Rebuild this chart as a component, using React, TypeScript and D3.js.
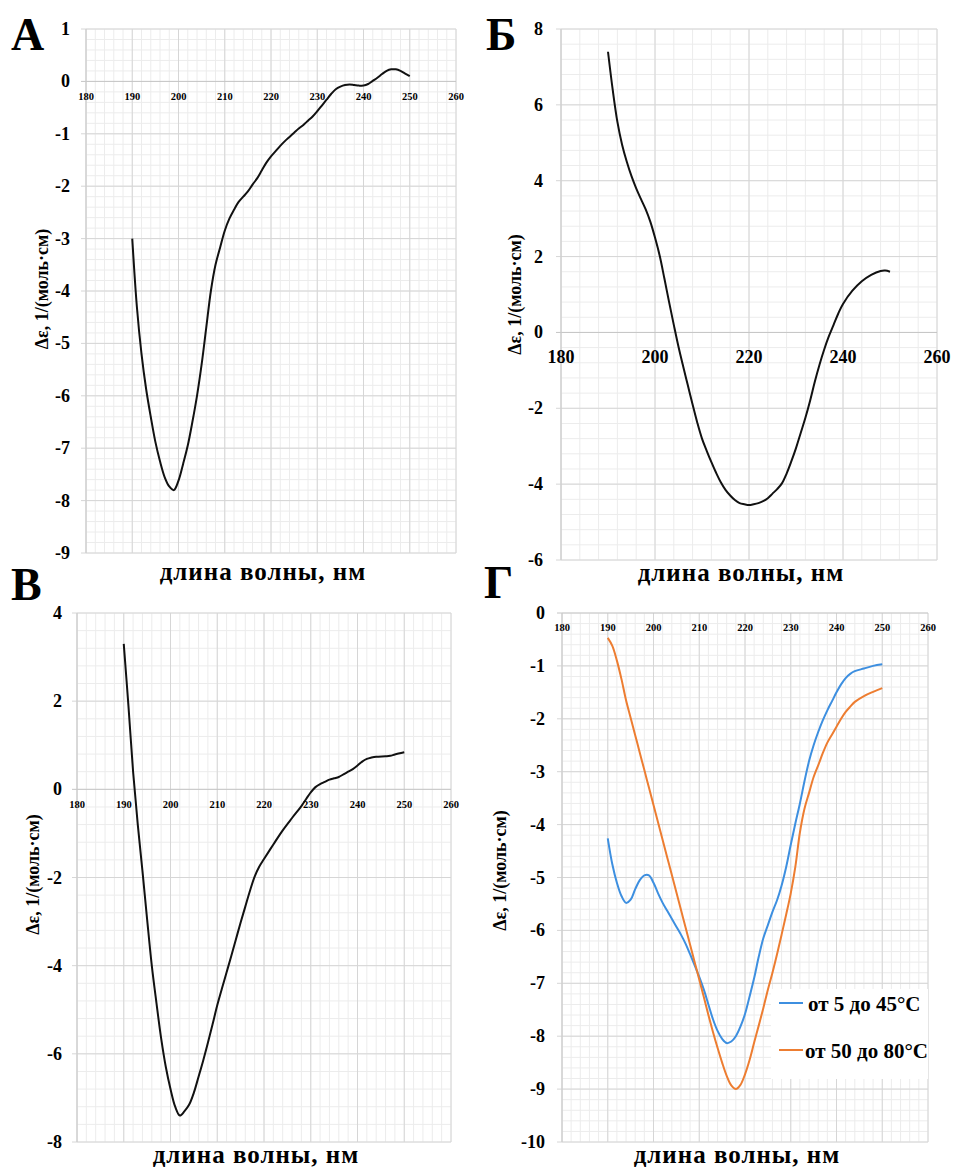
import * as d3 from "d3";

const xTicks10 = [180, 190, 200, 210, 220, 230, 240, 250, 260];
const xTicks20 = [180, 200, 220, 240, 260];

// А
const wlA = [190,191,192,193,194,195,196,197,198,199,200,201,202,203,204,205,206,207,208,209,210,211,212,213,214,215,216,217,218,219,220,221,222,223,224,225,226,227,228,229,230,231,232,233,234,235,236,237,238,239,240,241,242,243,244,245,246,247,248,249,250];
const deA = [-3.0,-4.3,-5.2,-5.87,-6.4,-6.88,-7.25,-7.55,-7.73,-7.8,-7.62,-7.3,-6.95,-6.5,-6.0,-5.4,-4.7,-4.0,-3.5,-3.17,-2.85,-2.62,-2.45,-2.3,-2.2,-2.1,-1.97,-1.85,-1.7,-1.55,-1.43,-1.33,-1.23,-1.14,-1.06,-0.98,-0.9,-0.83,-0.75,-0.67,-0.57,-0.46,-0.35,-0.24,-0.15,-0.1,-0.07,-0.06,-0.07,-0.08,-0.08,-0.05,0.01,0.07,0.14,0.2,0.23,0.23,0.2,0.15,0.1];

// Б
const wlB = [190,191,192,193,194,195,196,197,198,199,200,201,202,203,204,205,206,207,208,209,210,211,212,213,214,215,216,217,218,219,220,221,222,223,224,225,226,227,228,229,230,231,232,233,234,235,236,237,238,239,240,242,244,246,248,249,250];
const deB = [7.4,6.4,5.55,4.95,4.5,4.12,3.8,3.52,3.25,2.92,2.5,2.02,1.42,0.8,0.2,-0.38,-0.9,-1.4,-1.9,-2.38,-2.8,-3.12,-3.42,-3.7,-3.95,-4.15,-4.3,-4.42,-4.5,-4.53,-4.55,-4.53,-4.5,-4.45,-4.37,-4.25,-4.13,-3.98,-3.72,-3.4,-3.05,-2.65,-2.25,-1.8,-1.3,-0.85,-0.45,-0.1,0.2,0.5,0.75,1.1,1.35,1.52,1.62,1.63,1.6];

// В
const wlC = [190,191,192,193,194,195,196,197,198,199,200,201,202,203,204,205,206,207,208,209,210,211,212,213,214,215,216,217,218,219,220,222,224,226,228,230,231,232,233,234,235,236,237,238,239,240,241,242,243,244,246,247,248,250];
const deC = [3.3,1.9,0.4,-0.8,-1.85,-2.95,-4.0,-4.85,-5.65,-6.3,-6.8,-7.2,-7.4,-7.3,-7.15,-6.88,-6.52,-6.15,-5.75,-5.33,-4.9,-4.52,-4.15,-3.78,-3.4,-3.02,-2.66,-2.3,-1.98,-1.75,-1.58,-1.25,-0.93,-0.65,-0.38,-0.07,0.05,0.12,0.17,0.22,0.25,0.28,0.34,0.4,0.46,0.54,0.63,0.69,0.72,0.74,0.75,0.76,0.79,0.84];

// Г
const wlD = [190,191,192,193,194,195,196,197,198,199,200,201,202,203,204,205,206,207,208,209,210,211,212,213,214,215,216,217,218,219,220,221,222,223,224,225,226,227,228,229,230,231,232,233,234,235,236,237,238,239,240,241,242,243,244,246,248,250];
const deD5to45 = [-4.26,-4.75,-5.1,-5.35,-5.48,-5.42,-5.22,-5.05,-4.96,-4.96,-5.1,-5.3,-5.48,-5.63,-5.78,-5.93,-6.08,-6.25,-6.45,-6.66,-6.88,-7.12,-7.4,-7.68,-7.9,-8.05,-8.13,-8.1,-8.0,-7.82,-7.58,-7.25,-6.9,-6.5,-6.15,-5.9,-5.65,-5.43,-5.15,-4.8,-4.38,-3.98,-3.6,-3.18,-2.8,-2.5,-2.25,-2.03,-1.84,-1.67,-1.5,-1.35,-1.23,-1.15,-1.1,-1.05,-1.0,-0.97];
const deD50to80 = [-0.47,-0.62,-0.9,-1.25,-1.65,-1.98,-2.31,-2.64,-2.97,-3.3,-3.63,-3.96,-4.29,-4.62,-4.95,-5.28,-5.61,-5.94,-6.27,-6.6,-6.93,-7.26,-7.6,-7.92,-8.22,-8.5,-8.75,-8.93,-9.0,-8.92,-8.72,-8.45,-8.12,-7.8,-7.47,-7.12,-6.8,-6.45,-6.08,-5.7,-5.3,-4.8,-4.15,-3.7,-3.4,-3.1,-2.88,-2.65,-2.45,-2.3,-2.15,-2.0,-1.87,-1.77,-1.68,-1.57,-1.49,-1.42];

const legendLabels = ["от 5 до 45°C", "от 50 до 80°C"];

const FONT = "'Liberation Serif', 'Times New Roman', serif";

type Series = { wl: number[]; de: number[]; color: string };

type PanelCfg = {
  letter: string;
  letterX: number;
  letterY: number;
  left: number;
  right: number;
  top: number;
  bottom: number;
  yDomain: [number, number];
  yStep: number;
  xTicks: number[];
  xTickSize: number;
  xTickOffset: number;
  yTickGap: number;
  yTitleX: number;
  yTitleDy: number;
  xTitleY: number;
  series: Series[];
};

function Panel({ cfg }: { cfg: PanelCfg }) {
  const x = d3.scaleLinear().domain([180, 260]).range([cfg.left, cfg.right]);
  const y = d3.scaleLinear().domain(cfg.yDomain).range([cfg.bottom, cfg.top]);
  const xStep = cfg.xTicks[1] - cfg.xTicks[0];
  const xMinor = d3.range(180, 260.001, xStep / 5);
  const yMinor = d3.range(cfg.yDomain[0], cfg.yDomain[1] + 0.001, cfg.yStep / 5);
  const yMajor = d3.range(cfg.yDomain[0], cfg.yDomain[1] + 0.001, cfg.yStep);
  const y0 = y(0);
  return (
    <g>
      {yMinor.map((v) => (
        <line key={"ym" + v} x1={cfg.left} x2={cfg.right} y1={y(v)} y2={y(v)} stroke="#ececec" />
      ))}
      {xMinor.map((v) => (
        <line key={"xm" + v} x1={x(v)} x2={x(v)} y1={cfg.top} y2={cfg.bottom} stroke="#ececec" />
      ))}
      {cfg.xTicks.map((v) => (
        <line key={"xM" + v} x1={x(v)} x2={x(v)} y1={cfg.top} y2={cfg.bottom} stroke="#d6d6d6" />
      ))}
      {yMajor.map((v) => (
        <line key={"yM" + v} x1={cfg.left - 5} x2={cfg.right} y1={y(v)} y2={y(v)} stroke={Math.abs(v) < 1e-9 ? "#c4c4c4" : "#d6d6d6"} />
      ))}
      <line x1={cfg.left} x2={cfg.left} y1={cfg.top} y2={cfg.bottom} stroke="#cccccc" />
      {cfg.series.map((s, k) => {
        const path = d3
          .line<number>()
          .x((_, i) => x(s.wl[i]))
          .y((d) => y(d))
          .curve(d3.curveCatmullRom.alpha(0.5))(s.de);
        return <path key={k} d={path ?? ""} fill="none" stroke={s.color} strokeWidth={2} />;
      })}
      {cfg.xTicks.map((v) => (
        <text
          key={"xt" + v}
          x={x(v)}
          y={y0 + cfg.xTickOffset}
          textAnchor="middle"
          dominantBaseline="central"
          fontSize={cfg.xTickSize}
          fontWeight="bold"
          fontFamily={FONT}
        >
          {v}
        </text>
      ))}
      {yMajor.map((v) => (
        <text
          key={"yt" + v}
          x={cfg.left - cfg.yTickGap}
          y={y(v)}
          textAnchor="end"
          dominantBaseline="central"
          fontSize={18}
          fontWeight="bold"
          fontFamily={FONT}
        >
          {d3.format("d")(v).replace("−", "-")}
        </text>
      ))}
      <text
        transform={`translate(${cfg.yTitleX},${(cfg.top + cfg.bottom) / 2 + cfg.yTitleDy}) rotate(-90)`}
        textAnchor="middle"
        dominantBaseline="central"
        fontSize={18}
        fontWeight="bold"
        fontFamily={FONT}
      >
        Δε, 1/(моль·см)
      </text>
      <text
        x={(cfg.left + cfg.right) / 2 - 8}
        y={cfg.xTitleY}
        textAnchor="middle"
        fontSize={25}
        fontWeight="bold"
        letterSpacing={1}
        fontFamily={FONT}
      >
        длина волны, нм
      </text>
      <text x={cfg.letterX} y={cfg.letterY} fontSize={46} fontWeight="bold" fontFamily={FONT}>
        {cfg.letter}
      </text>
    </g>
  );
}

const panels: PanelCfg[] = [
  {
    letter: "А", letterX: 11, letterY: 50,
    left: 86, right: 456, top: 29, bottom: 553,
    yDomain: [-9, 1], yStep: 1, xTicks: xTicks10, xTickSize: 10.5, xTickOffset: 15,
    yTickGap: 16, yTitleX: 42, yTitleDy: -2, xTitleY: 580,
    series: [{ wl: wlA, de: deA, color: "#111" }],
  },
  {
    letter: "Б", letterX: 486, letterY: 50,
    left: 561, right: 937, top: 29, bottom: 560,
    yDomain: [-6, 8], yStep: 2, xTicks: xTicks20, xTickSize: 18, xTickOffset: 25,
    yTickGap: 18, yTitleX: 515, yTitleDy: 0, xTitleY: 581,
    series: [{ wl: wlB, de: deB, color: "#111" }],
  },
  {
    letter: "В", letterX: 11, letterY: 600,
    left: 77, right: 451, top: 613, bottom: 1142,
    yDomain: [-8, 4], yStep: 2, xTicks: xTicks10, xTickSize: 10.5, xTickOffset: 15,
    yTickGap: 15, yTitleX: 33, yTitleDy: -3, xTitleY: 1163,
    series: [{ wl: wlC, de: deC, color: "#111" }],
  },
  {
    letter: "Г", letterX: 484, letterY: 598,
    left: 562, right: 928, top: 613, bottom: 1142,
    yDomain: [-10, 0], yStep: 1, xTicks: xTicks10, xTickSize: 10.5, xTickOffset: 14,
    yTickGap: 17, yTitleX: 500, yTitleDy: -7, xTitleY: 1163,
    series: [
      { wl: wlD, de: deD5to45, color: "#3d8fe0" },
      { wl: wlD, de: deD50to80, color: "#ed7d31" },
    ],
  },
];

export default function App() {
  const legendColors = ["#3d8fe0", "#ed7d31"];
  return (
    <svg width={955} height={1167} style={{ position: "absolute", left: 0, top: 0, background: "#fff" }}>
      {panels.map((p) => (
        <Panel key={p.letter} cfg={p} />
      ))}
      <rect x={771} y={989} width={157} height={90} fill="#fff" />
      {legendLabels.map((t, i) => (
        <g key={t}>
          <line x1={779} x2={803} y1={1003 + i * 47} y2={1003 + i * 47} stroke={legendColors[i]} strokeWidth={2} />
          <text x={i === 0 ? 808 : 805} y={1004 + i * 47} dominantBaseline="central" fontSize={21} fontWeight="bold" fontFamily={FONT}>
            {t}
          </text>
        </g>
      ))}
    </svg>
  );
}
